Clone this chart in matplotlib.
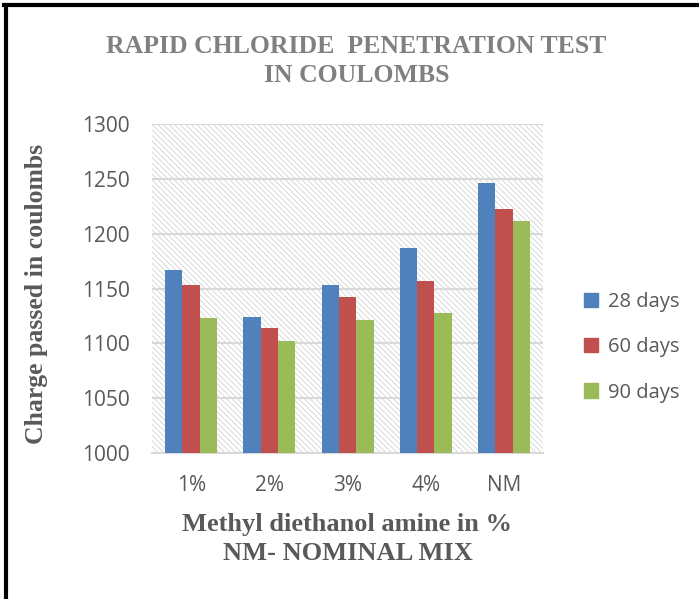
import matplotlib.pyplot as plt
import matplotlib.patches as mpatches
from matplotlib.lines import Line2D
import numpy as np

categories = ["1%", "2%", "3%", "4%", "NM"]
series_names = ["28 days", "60 days", "90 days"]
days_28 = [1167, 1124, 1153, 1187, 1246]
days_60 = [1153, 1114, 1142, 1157, 1223]
days_90 = [1123, 1102, 1121, 1128, 1212]
colors = ["#4F81BD", "#C0504D", "#9BBB59"]


def main():
    plt.rcParams["hatch.linewidth"] = 0.6

    fig = plt.figure(figsize=(6.99, 5.99), dpi=100)
    ax = fig.add_axes([0.2175, 0.2437, 0.5594, 0.549])

    # hatched plot area like the Excel original
    ax.add_patch(mpatches.Rectangle((0, 0), 1, 1, transform=ax.transAxes,
                                    facecolor="white", edgecolor="#d2d2d2",
                                    linewidth=0, hatch="\\\\\\\\\\\\",
                                    zorder=0))

    x = np.arange(len(categories))
    w = 0.222
    for i, (vals, name) in enumerate(zip([days_28, days_60, days_90], series_names)):
        ax.bar(x + (i - 1) * w, np.array(vals) - 1000, width=w, bottom=1000,
               color=colors[i], label=name, zorder=3)

    ax.set_xlim(-0.5, len(categories) - 0.5)
    ax.set_ylim(1000, 1300)
    ax.set_yticks(range(1000, 1301, 50))
    ax.yaxis.grid(True, color="#d9d9d9", linewidth=1.5, zorder=1)
    ax.set_axisbelow(True)
    for s in ["top", "right", "left"]:
        ax.spines[s].set_visible(False)
    ax.spines["bottom"].set_color("#d9d9d9")
    ax.spines["bottom"].set_linewidth(1.5)
    ax.tick_params(length=0, labelsize=15, labelcolor="#595959")
    ax.tick_params(axis="y", pad=16)
    ax.tick_params(axis="x", pad=16)
    ax.set_xticks(x)
    ax.set_xticklabels(categories, fontfamily="Open Sans")
    for lab in ax.get_yticklabels():
        lab.set_fontfamily("Open Sans")

    fig.text(0.51, 0.898, "RAPID CHLORIDE  PENETRATION TEST\nIN COULOMBS",
             ha="center", va="center", fontsize=18.5, fontweight="bold",
             family="Liberation Serif", color="#808080", linespacing=1.3)
    fig.text(0.052, 0.51, "Charge passed in coulombs", rotation=90,
             ha="center", va="center", fontsize=18.5, fontweight="bold",
             family="Liberation Serif", color="#595959")
    fig.text(0.497, 0.1, "Methyl diethanol amine in %\nNM- NOMINAL MIX",
             ha="center", va="center", fontsize=19, fontweight="bold",
             family="Liberation Serif", color="#595959", linespacing=1.3)

    handles = [mpatches.Patch(color=c) for c in colors]
    fig.legend(handles, series_names, loc="center left",
               bbox_to_anchor=(0.81, 0.42), frameon=False,
               prop={"family": "Open Sans", "size": 14.5},
               labelcolor="#595959", handlelength=0.7, handleheight=0.7,
               handletextpad=0.5, labelspacing=1.25)

    # black frame on top and left
    fig.add_artist(Line2D([0.008, 0.008], [0, 0.992], color="black",
                          linewidth=3, transform=fig.transFigure))
    fig.add_artist(Line2D([0.006, 0.999], [0.992, 0.992], color="black",
                          linewidth=3, transform=fig.transFigure))

    fig.savefig("out.png", dpi=100)


if __name__ == "__main__":
    main()
